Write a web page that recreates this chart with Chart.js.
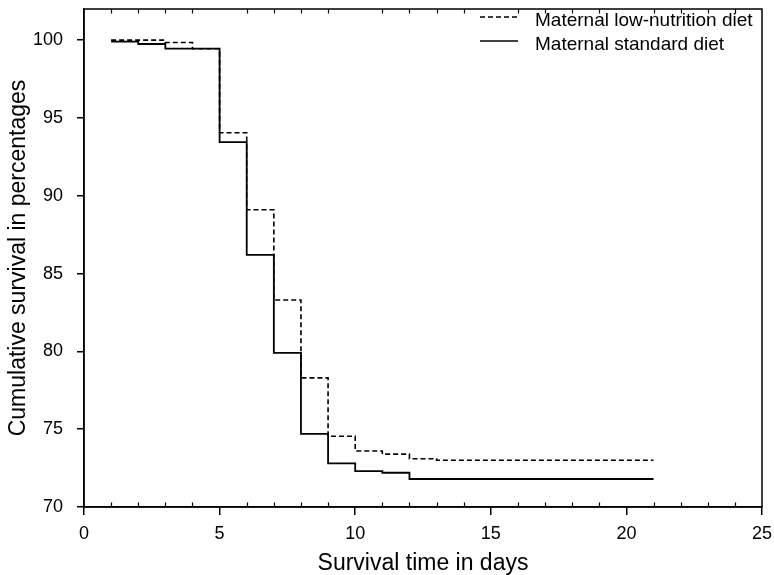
<!DOCTYPE html>
<html lang="en">
<head>
<meta charset="UTF-8">
<title>Cumulative survival</title>
<script src="https://cdn.jsdelivr.net/npm/chart.js"></script>
<style>
  html, body { margin: 0; padding: 0; background: #fff; }
  #wrap { width: 774px; height: 575px; }
</style>
</head>
<body>
<div id="wrap"><canvas id="survChart"></canvas></div>
<script>
// survival time (days) and cumulative survival (%) per group
const days = [1, 2, 3, 4, 5, 6, 7, 8, 9, 10, 11, 12, 13, 14, 15, 16, 17, 18, 19, 20, 21];
const lowNutrition = [100.0, 100.0, 99.85, 99.45, 94.05, 89.1, 83.3, 78.3, 74.55, 73.6, 73.4, 73.1,
                      73.0, 73.0, 73.0, 73.0, 73.0, 73.0, 73.0, 73.0, 73.0];
const standardDiet = [99.9, 99.75, 99.45, 99.45, 93.45, 86.2, 79.9, 74.7, 72.8, 72.3, 72.2,
                      71.8, 71.8, 71.8, 71.8, 71.8, 71.8, 71.8, 71.8, 71.8, 71.8];
const seriesLabels = ['Maternal low-nutrition diet', 'Maternal standard diet'];
const xTicks = [0, 5, 10, 15, 20, 25];
const yTicks = [70, 75, 80, 85, 90, 95, 100];

const FONT = "'Liberation Sans', Arial, sans-serif";

// little inward ticks on top and bottom + the frame
const framePlugin = {
    id: 'frame',
    afterDraw(chart) {
        const ctx = chart.ctx;
        const a = chart.chartArea;
        const xs = chart.scales.x;
        ctx.save();
        ctx.strokeStyle = '#000';
        ctx.lineWidth = 1.5;
        ctx.strokeRect(a.left, a.top, a.right - a.left, a.bottom - a.top);
        ctx.lineWidth = 1.2;
        ctx.beginPath();
        for (let d = xs.min + 1; d < xs.max; d++) {
            if (d % 5 === 0) continue;
            const px = Math.round(xs.getPixelForValue(d)) + 0.5;
            ctx.moveTo(px, a.bottom);
            ctx.lineTo(px, a.bottom - 4.5);
            ctx.moveTo(px, a.top);
            ctx.lineTo(px, a.top + 4.5);
        }
        ctx.stroke();
        ctx.restore();
    }
};

// legend in the top right corner
const legendPlugin = {
    id: 'cornerLegend',
    afterDraw(chart) {
        const ctx = chart.ctx;
        const a = chart.chartArea;
        ctx.save();
        ctx.font = '19px ' + FONT;
        ctx.fillStyle = '#000';
        ctx.textBaseline = 'alphabetic';
        chart.data.datasets.forEach((ds, i) => {
            const y = a.top + 8 + i * 24;
            ctx.strokeStyle = '#000';
            ctx.lineWidth = 1.6;
            ctx.setLineDash(ds.borderDash || []);
            ctx.beginPath();
            ctx.moveTo(a.right - 282, y);
            ctx.lineTo(a.right - 244, y);
            ctx.stroke();
            ctx.setLineDash([]);
            ctx.fillText(ds.label, a.right - 227, y + 9);
        });
        ctx.restore();
    }
};

const ctx = document.getElementById('survChart').getContext('2d');
new Chart(ctx, {
    type: 'line',
    data: {
        datasets: [
            {
                label: seriesLabels[0],
                data: days.map((d, i) => ({ x: d, y: lowNutrition[i] })),
                borderColor: '#000',
                borderWidth: 1.6,
                borderDash: [5, 3],
                stepped: 'before',
                pointRadius: 0,
                fill: false,
                order: 1
            },
            {
                label: seriesLabels[1],
                data: days.map((d, i) => ({ x: d, y: standardDiet[i] })),
                borderColor: '#000',
                borderWidth: 1.8,
                stepped: 'before',
                pointRadius: 0,
                fill: false,
                order: 0
            }
        ]
    },
    options: {
        responsive: true,
        maintainAspectRatio: false,
        animation: false,
        layout: { padding: { top: 9, right: 12, left: 0, bottom: 0 } },
        plugins: {
            legend: { display: false },
            tooltip: { enabled: false }
        },
        scales: {
            x: {
                type: 'linear',
                min: 0,
                max: 25,
                afterBuildTicks: (s) => { s.ticks = xTicks.map(v => ({ value: v })); },
                afterFit: (s) => { s.height = 68; s.paddingLeft = 0; s.paddingRight = 0; },
                grid: { drawOnChartArea: false, drawTicks: true, tickLength: 8, color: '#000', lineWidth: 1.5 },
                border: { display: true, color: '#000', width: 1.5 },
                ticks: { color: '#000', font: { family: FONT, size: 18 }, padding: 8, maxRotation: 0 },
                title: {
                    display: true,
                    text: 'Survival time in days',
                    color: '#000',
                    font: { family: FONT, size: 23, lineHeight: 1 },
                    padding: { top: 0, bottom: 0 }
                }
            },
            y: {
                min: 70,
                max: 102,
                afterBuildTicks: (s) => { s.ticks = yTicks.map(v => ({ value: v })); },
                afterFit: (s) => { s.width = 84; s.paddingTop = 0; s.paddingBottom = 0; },
                grid: { drawOnChartArea: false, drawTicks: true, tickLength: 7, color: '#000', lineWidth: 1.5 },
                border: { display: true, color: '#000', width: 1.5 },
                ticks: { color: '#000', font: { family: FONT, size: 18 }, padding: 14 },
                title: {
                    display: true,
                    text: 'Cumulative survival in percentages',
                    color: '#000',
                    font: { family: FONT, size: 23 },
                    padding: { top: 5, bottom: 0 }
                }
            }
        }
    },
    plugins: [framePlugin, legendPlugin]
});
</script>
</body>
</html>
